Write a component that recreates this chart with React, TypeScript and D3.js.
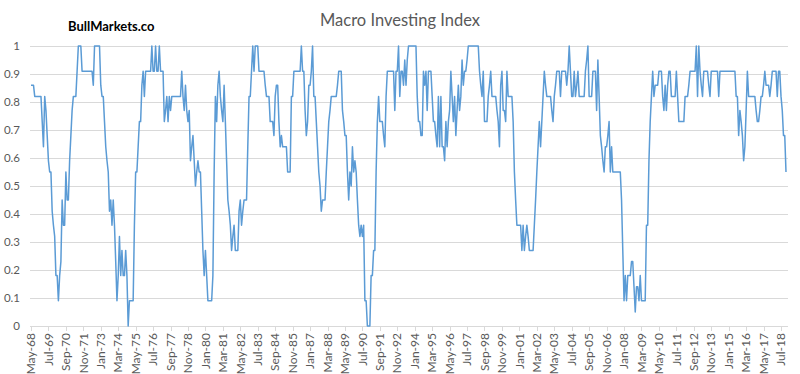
import { useEffect, useRef } from "react"
import * as d3 from "d3"

// monthly index readings, May-68 onward
const values1960s = [
  0.86, 0.86, 0.86, 0.82, 0.82, 0.82, 0.82, 0.82, 0.82, 0.73,
  0.64, 0.82, 0.77, 0.68, 0.59, 0.55, 0.55, 0.41, 0.36, 0.32,
]
const values1970s = [
  0.18, 0.18, 0.09, 0.18, 0.23, 0.45, 0.36, 0.36, 0.55, 0.45,
  0.45, 0.59, 0.68, 0.77, 0.82, 0.82, 0.82, 0.91, 1, 1,
  1, 0.91, 0.91, 0.91, 0.91, 0.91, 0.91, 0.91, 0.91, 0.91,
  0.86, 1, 1, 1, 1, 1, 0.86, 0.82, 0.82, 0.73,
  0.64, 0.59, 0.55, 0.41, 0.45, 0.36, 0.45, 0.36, 0.23, 0.09,
  0.18, 0.32, 0.18, 0.27, 0.18, 0.18, 0.27, 0.18, 0, 0.09,
  0.09, 0.09, 0.09, 0.36, 0.55, 0.55, 0.64, 0.73, 0.73, 0.86,
  0.91, 0.82, 0.91, 0.91, 0.91, 0.91, 0.91, 1, 0.91, 0.91,
  1, 0.91, 0.91, 1, 0.91, 0.91, 0.91, 0.73, 0.77, 0.82,
  0.73, 0.82, 0.77, 0.82, 0.82, 0.82, 0.82, 0.82, 0.82,
  0.82, 0.82, 0.91, 0.82, 0.77, 0.86, 0.77, 0.73, 0.77, 0.59,
  0.64, 0.68, 0.59, 0.5, 0.55, 0.59, 0.55, 0.55, 0.41, 0.27,
]
const values1980s = [
  0.18, 0.27, 0.18, 0.09, 0.09, 0.09, 0.09, 0.18, 0.55, 0.82,
  0.73, 0.86, 0.91, 0.82, 0.77, 0.73, 0.86, 0.73, 0.59, 0.45,
  0.41, 0.36, 0.27, 0.32, 0.36, 0.27, 0.27, 0.27, 0.41, 0.45,
  0.36, 0.41, 0.45, 0.45, 0.45, 0.64, 0.82, 0.82, 0.91, 1,
  0.91, 1, 1, 1, 0.91, 0.91, 0.91, 0.91, 0.91, 0.86,
  0.82, 0.82, 0.82, 0.73, 0.73, 0.73, 0.68, 0.82, 0.86, 0.86,
  0.73, 0.64, 0.68, 0.64, 0.64, 0.64, 0.64, 0.55, 0.55, 0.55,
  0.82, 0.82, 0.91, 0.91, 0.91, 0.91, 0.91, 0.91, 1, 0.91,
  0.91, 0.77, 0.68, 0.73, 0.86, 0.86, 0.91, 1, 0.82, 0.82,
  0.73, 0.64, 0.55, 0.5, 0.41, 0.45, 0.45, 0.45, 0.55, 0.64,
  0.73, 0.77, 0.82, 0.82, 0.82, 0.82, 0.82, 0.86, 0.91, 0.91,
  0.91, 0.77, 0.73, 0.68, 0.68, 0.55, 0.45, 0.55, 0.5, 0.64,
]
const values1990s = [
  0.55, 0.59, 0.55, 0.45, 0.36, 0.32, 0.36, 0.32, 0.36, 0.09,
  0.09, 0, 0, 0, 0.18, 0.18, 0.27, 0.27, 0.55, 0.73,
  0.82, 0.73, 0.73, 0.73, 0.68, 0.64, 0.82, 0.91, 0.91, 0.91,
  0.91, 0.91, 0.91, 0.77, 0.91, 0.91, 1, 0.82, 0.91,
  0.91, 0.86, 0.95, 0.86, 0.95, 1, 1, 1, 1, 1,
  1, 1, 0.82, 0.73, 0.73, 0.68, 0.68, 0.91, 0.86, 0.91,
  0.77, 0.91, 0.91, 0.91, 0.82, 0.73, 0.73, 0.68, 0.64, 0.82,
  0.64, 0.82, 0.64, 0.64, 0.59, 0.73, 0.64, 0.73, 0.77, 0.91,
  0.82, 0.73, 0.82, 0.68, 0.77, 0.86, 0.77, 0.82, 0.95, 0.86,
  0.91, 0.91, 0.95, 1, 1, 1, 1, 1, 1, 1,
  1, 1, 0.91, 0.86, 0.82, 0.91, 0.73, 0.73, 0.73, 0.82,
  0.86, 0.91, 0.82, 0.82, 0.82, 0.82, 0.77, 0.73, 0.64, 0.86,
]
const values2000s = [
  0.91, 0.77, 0.77, 0.73, 0.91, 0.82, 0.82, 0.82, 0.82, 0.73,
  0.55, 0.45, 0.36, 0.36, 0.36, 0.36, 0.27, 0.36, 0.27, 0.32,
  0.36, 0.32, 0.27, 0.27, 0.27, 0.27, 0.36, 0.45, 0.55, 0.64,
  0.73, 0.64, 0.73, 0.82, 0.91, 0.86, 0.82, 0.82, 0.82, 0.82,
  0.77, 0.73, 0.82, 0.86, 0.91, 0.91, 0.91, 0.82, 0.91, 0.91,
  0.91, 0.91, 0.86, 0.91, 1, 0.91, 0.82, 0.82, 0.91, 0.82,
  0.86, 0.91, 0.82, 0.82, 0.82, 0.82, 0.82, 0.91, 0.95,
  1, 0.82, 0.82, 0.82, 0.91, 0.91, 0.91, 0.77, 0.95, 0.82,
  0.68, 0.64, 0.59, 0.55, 0.64, 0.64, 0.68, 0.73, 0.55, 0.64,
  0.55, 0.55, 0.55, 0.55, 0.55, 0.55, 0.55, 0.45, 0.27, 0.09,
  0.18, 0.09, 0.18, 0.18, 0.18, 0.23, 0.23, 0.14, 0.05, 0.14,
  0.14, 0.09, 0.18, 0.09, 0.09, 0.09, 0.09, 0.36, 0.36, 0.59,
]
const values2010s = [
  0.73, 0.82, 0.91, 0.82, 0.86, 0.86, 0.86, 0.91, 0.91, 0.91,
  0.82, 0.77, 0.86, 0.77, 0.86, 0.91, 0.91, 0.82, 0.82, 0.82,
  0.82, 0.91, 0.82, 0.73, 0.73, 0.73, 0.73, 0.73, 0.82, 0.82,
  0.82, 0.86, 0.91, 0.91, 0.91, 0.91, 0.91, 1, 0.82, 1,
  0.91, 0.86, 0.82, 0.91, 0.91, 0.91, 0.91, 0.86, 0.82, 0.91,
  0.91, 0.91, 0.91, 0.91, 0.91, 0.82, 0.91, 0.91, 0.91, 0.91,
  0.91, 0.91, 0.91, 0.91, 0.91, 0.91, 0.91, 0.91, 0.91,
  0.82, 0.82, 0.68, 0.77, 0.73, 0.68, 0.59, 0.64, 0.77, 0.91,
  0.82, 0.82, 0.82, 0.82, 0.82, 0.82, 0.77, 0.73, 0.73, 0.77,
  0.82, 0.82, 0.86, 0.91, 0.86, 0.86, 0.86, 0.82, 0.86, 0.91,
  0.91, 0.91, 0.91, 0.82, 0.91, 0.91, 0.82, 0.77, 0.68, 0.68,
  0.55,
]

// one label every 14 months
const tickLabels = [
  "May-68", "Jul-69", "Sep-70", "Nov-71", "Jan-73", "Mar-74", "May-75", "Jul-76",
  "Sep-77", "Nov-78", "Jan-80", "Mar-81", "May-82", "Jul-83", "Sep-84", "Nov-85",
  "Jan-87", "Mar-88", "May-89", "Jul-90", "Sep-91", "Nov-92", "Jan-94", "Mar-95",
  "May-96", "Jul-97", "Sep-98", "Nov-99", "Jan-01", "Mar-02", "May-03", "Jul-04",
  "Sep-05", "Nov-06", "Jan-08", "Mar-09", "May-10", "Jul-11", "Sep-12", "Nov-13",
  "Jan-15", "Mar-16", "May-17", "Jul-18",
]
const tickStep = 14
const yTicks = [0, 0.1, 0.2, 0.3, 0.4, 0.5, 0.6, 0.7, 0.8, 0.9, 1]

export default function App() {
  const svgRef = useRef<SVGSVGElement>(null)

  useEffect(() => {
    if (!svgRef.current) return
    const svg = d3.select(svgRef.current)
    svg.selectAll("*").remove()

    const data = [...values1960s, ...values1970s, ...values1980s, ...values1990s, ...values2000s, ...values2010s]
    const font = "Lato, 'Open Sans', sans-serif"

    const x = d3.scaleLinear().domain([0, data.length - 1]).range([31, 786])
    const y = d3.scaleLinear().domain([0, 1]).range([326, 46])

    svg.append("rect").attr("width", 800).attr("height", 374).attr("fill", "#fff")

    // gridlines
    svg.append("g")
      .selectAll("line")
      .data(yTicks)
      .enter()
      .append("line")
      .attr("x1", 30)
      .attr("x2", 788)
      .attr("y1", d => Math.round(y(d)) + 0.5)
      .attr("y2", d => Math.round(y(d)) + 0.5)
      .attr("stroke", "#d9d9d9")
      .attr("stroke-width", 1)

    // y labels
    svg.append("g")
      .selectAll("text")
      .data(yTicks)
      .enter()
      .append("text")
      .attr("x", 20)
      .attr("y", d => y(d))
      .attr("dy", "0.35em")
      .attr("text-anchor", "end")
      .style("font-family", font)
      .style("font-size", "11.5px")
      .style("fill", "#595959")
      .text(d => d3.format("~g")(d))

    // x ticks + rotated labels
    const xg = svg.append("g")
    tickLabels.forEach((lab, i) => {
      const px = Math.round(x(i * tickStep)) + 0.5
      xg.append("line")
        .attr("x1", px).attr("x2", px)
        .attr("y1", 326).attr("y2", 331)
        .attr("stroke", "#d9d9d9")
      xg.append("text")
        .attr("transform", `translate(${x(i * tickStep)},333) rotate(-90)`)
        .attr("dy", "0.35em")
        .attr("text-anchor", "end")
        .style("font-family", font)
        .style("font-size", "12px")
        .style("fill", "#595959")
        .text(lab)
    })

    const line = d3.line<number>()
      .x((_, i) => x(i))
      .y(d => y(d))

    svg.append("path")
      .datum(data)
      .attr("d", line)
      .attr("fill", "none")
      .attr("stroke", "#5b9bd5")
      .attr("stroke-width", 1.5)
      .attr("stroke-linejoin", "round")

    svg.append("text")
      .attr("x", 400)
      .attr("y", 26)
      .attr("text-anchor", "middle")
      .style("font-family", font)
      .style("font-size", "16.5px")
      .style("fill", "#595959")
      .text("Macro Investing Index")

    svg.append("text")
      .attr("x", 68)
      .attr("y", 31)
      .style("font-family", font)
      .style("font-size", "13px")
      .style("font-weight", "bold")
      .style("fill", "#000")
      .text("BullMarkets.co")
  }, [])

  return (
    <svg
      ref={svgRef}
      width={800}
      height={374}
      style={{ position: "absolute", left: 0, top: 0, display: "block" }}
    ></svg>
  )
}
